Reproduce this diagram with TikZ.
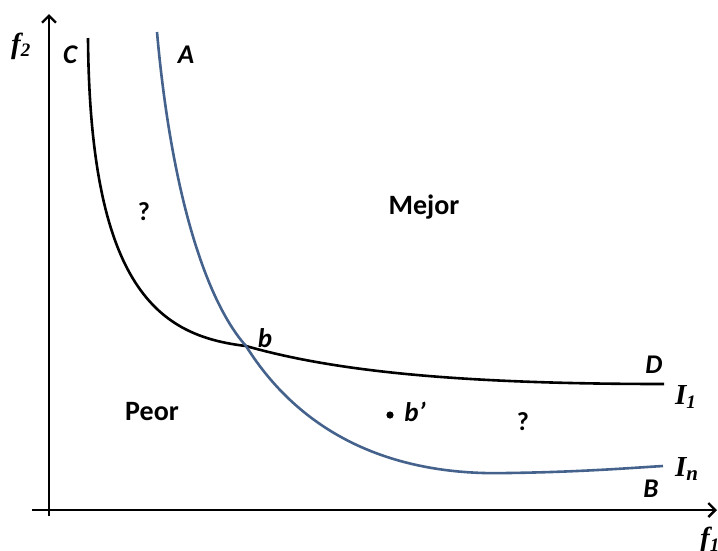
\documentclass[tikz,border=0pt]{standalone}
\usepackage{fontspec}
\setmainfont{Liberation Serif}
\newfontfamily\carlitofont{Carlito}
\usetikzlibrary{arrows.meta}
\definecolor{curveblue}{RGB}{68,98,140}
\tikzset{
  axis/.style={line width=2.8pt, -{Straight Barb[length=7pt,width=14pt,line width=2.4pt]}},
  curve/.style={line width=2.6pt},
  lab/.style={font=\carlitofont\bfseries\itshape\fontsize{27}{27}\selectfont, inner sep=0pt, anchor=base},
  region/.style={font=\carlitofont\bfseries\fontsize{28}{28}\selectfont, inner sep=0pt, anchor=base},
  qmark/.style={font=\carlitofont\bfseries\fontsize{26}{26}\selectfont, inner sep=0pt, anchor=base},
  axlab/.style={font=\bfseries\itshape\fontsize{29}{29}\selectfont, inner sep=0pt, anchor=base west},
}
\newcommand{\subs}[1]{\raisebox{-0.3ex}{\fontsize{19}{19}\selectfont #1}}
\begin{document}
\begin{tikzpicture}[x=1pt,y=-1pt]
\useasboundingbox (0,0) rectangle (718,550);
% axes
\coordinate (ybot) at (49,516);
\coordinate (ytop) at (49,14);
\coordinate (xleft) at (32,510);
\coordinate (xright) at (717,510);
\draw[axis] (ybot) -- (ytop);
\draw[axis] (xleft) -- (xright);
% curves
\coordinate (c0) at (88,38);
\coordinate (bx) at (246,346);
\coordinate (d0) at (664,384);
\coordinate (a0) at (157,32);
\coordinate (bm) at (508,473);
\coordinate (b0) at (663,466);
\draw[curve] (c0) .. controls (90,290) and (160,336) .. (bx)
  .. controls (330,370) and (450,384) .. (d0);
\draw[curve, curveblue] (a0) .. controls (171,190) and (205,300) .. (bx)
  .. controls (305,440) and (400,476) .. (bm)
  .. controls (580,472) and (630,468) .. (b0);
% point b'
\fill (390,415) circle (3.6pt) coordinate (bp);
% labels
\node[axlab] (f2) at (11,53) {f\subs{2}};
\node[axlab] (f1) at (700,547) {f\subs{1}};
\node[lab] (C) at (70,63) {C};
\node[lab] (A) at (186,63) {A};
\node[qmark] (q1) at (144,220) {?};
\node[region] (mejor) at (424,214) {Mejor};
\node[region] (peor) at (152,420) {Peor};
\node[lab] (b) at (265,347) {b};
\node[lab] (bplab) at (415,421) {b’};
\node[qmark] (q2) at (523,430) {?};
\node[lab] (D) at (654,373) {D};
\node[lab] (B) at (651,497) {B};
\node[axlab] (I1) at (675,404) {I\subs{1}};
\node[axlab] (In) at (675,476) {I\raisebox{-0.35ex}{\fontsize{21}{21}\selectfont n}};
\end{tikzpicture}
\end{document}
